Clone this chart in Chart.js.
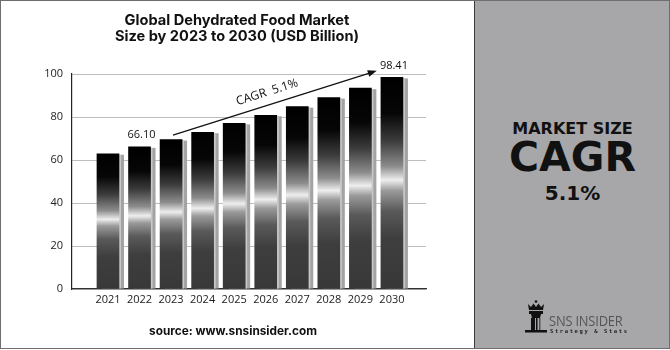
<!DOCTYPE html>
<html>
<head>
<meta charset="utf-8">
<script src="https://cdn.jsdelivr.net/npm/chart.js@4"></script>
<style>
  html, body { margin: 0; padding: 0; background: #fff; }
  #frame { position: relative; width: 670px; height: 350px; overflow: hidden; }
  #border { position: absolute; left: 0; top: 0; width: 668px; height: 347px; border: 1px solid #6e6e6e; }
  #chartCanvas { position: absolute; left: 0; top: 0; }
  .title { position: absolute; left: 0; width: 474px; text-align: center; font-family: Inter, sans-serif; font-weight: 700; font-size: 14.6px; color: #111; }
  #source { position: absolute; left: 0; width: 466px; top: 324px; text-align: center; font-family: Inter, sans-serif; font-weight: 700; font-size: 11.8px; color: #111; }
  #side { position: absolute; left: 474px; top: 1px; width: 195px; height: 347px; background: #a7a7aa; border-left: 1px solid #3a3a3a; }
  .side-txt { position: absolute; left: 0; width: 195px; text-align: center; font-family: "DejaVu Sans", sans-serif; font-weight: 700; color: #111; }
  #logo { position: absolute; left: 50px; top: 299px; }
  #logoName { position: absolute; left: 74px; top: 310px; font-family: "Open Sans", sans-serif; font-size: 14px; color: #555; letter-spacing: -0.2px; transform: scaleX(0.92); transform-origin: left; }
  #logoTag { position: absolute; left: 75px; top: 327px; font-family: "DejaVu Sans Mono", monospace; font-weight: 700; font-size: 5.5px; color: #222; letter-spacing: 1.6px; }
</style>
</head>
<body>
<div id="frame">
  <canvas id="chartCanvas" width="474" height="350"></canvas>
  <div class="title" style="top: 11px;">Global Dehydrated Food Market</div>
  <div class="title" style="top: 27px;">Size by 2023 to 2030 (USD Billion)</div>
  <div id="source">source: www.snsinsider.com</div>
  <div id="side">
    <div class="side-txt" style="top: 118px; font-size: 16px;">MARKET SIZE</div>
    <div class="side-txt" style="top: 132px; font-size: 41px;">CAGR</div>
    <div class="side-txt" style="top: 180px; font-size: 20px;">5.1%</div>
    <svg id="logo" width="22" height="34" viewBox="0 0 22 34">
      <circle cx="11" cy="1.5" r="1.3" fill="#111"/>
      <path d="M3 4 L6 7 L8.5 3.5 L11 7 L13.5 3.5 L16 7 L19 4 L18 10 L4 10 Z" fill="#111"/>
      <rect x="4" y="11" width="14" height="3" fill="#111"/>
      <path d="M6 14 L16 14 L15 18 L7 18 Z" fill="#111"/>
      <rect x="6" y="18" width="4" height="12" fill="#111"/>
      <rect x="11" y="18" width="1.5" height="12" fill="#111"/>
      <rect x="14" y="18" width="1.5" height="12" fill="#555"/>
      <rect x="0" y="30" width="22" height="2.5" fill="#111"/>
    </svg>
    <div id="logoName">SNS INSIDER</div>
    <div id="logoTag">Strategy &amp; Stats</div>
  </div>
  <div id="border"></div>
</div>
<script>
// data
const years = [2021, 2022, 2023, 2024, 2025, 2026, 2027, 2028, 2029, 2030];
const marketSize = [62.9, 66.10, 69.5, 72.9, 77.0, 80.8, 84.8, 89.0, 93.4, 98.41];
const valueLabels = ['', '66.10', '', '', '', '', '', '', '', '98.41'];
const yTicks = [0, 20, 40, 60, 80, 100];

// CAGR arrow, in data space
const cagrText = 'CAGR  5.1%';
const cagrFrom = { x: 2023.06, y: 71.6 };
const cagrTo = { x: 2029.52, y: 101.5 };

const FONT = '"Open Sans", sans-serif';

function barGradient(c) {
  const chart = c.chart;
  const { ctx, chartArea, scales } = chart;
  if (!chartArea || c.type !== 'data') return '#000';
  const top = scales.y.getPixelForValue(c.parsed.y);
  const bottom = scales.y.getPixelForValue(0);
  const g = ctx.createLinearGradient(0, top, 0, bottom);
  g.addColorStop(0, '#000');
  g.addColorStop(0.17, '#060606');
  g.addColorStop(0.3, '#3c3c3c');
  g.addColorStop(0.42, '#8c8c8c');
  g.addColorStop(0.485, '#eeeeee');
  g.addColorStop(0.535, '#9a9a9a');
  g.addColorStop(0.63, '#5a5a5a');
  g.addColorStop(0.76, '#3e3e3e');
  g.addColorStop(1, '#383838');
  return g;
}

// gray offset block behind each bar
const barShadow = {
  id: 'barShadow',
  beforeDatasetsDraw(chart) {
    const ctx = chart.ctx;
    ctx.save();
    chart.getDatasetMeta(0).data.forEach(bar => {
      const { x, y, base, width } = bar.getProps(['x', 'y', 'base', 'width'], true);
      ctx.fillStyle = '#a3a3a3';
      ctx.fillRect(x - width / 2 + 5, y + 1, width, base - y - 1);
      ctx.fillStyle = '#c9c9c9';
      ctx.fillRect(x + width / 2, y + 1, 2, base - y - 1);
    });
    ctx.restore();
  }
};

// value labels + CAGR arrow
const overlay = {
  id: 'overlay',
  afterDatasetsDraw(chart) {
    const { ctx, scales } = chart;
    ctx.save();
    ctx.font = '11px ' + FONT;
    ctx.fillStyle = '#111';
    ctx.textAlign = 'center';
    ctx.textBaseline = 'middle';
    chart.getDatasetMeta(0).data.forEach((bar, i) => {
      if (!valueLabels[i]) return;
      ctx.fillText(valueLabels[i], bar.x + 2, bar.y - 12);
    });

    const x1 = scales.x.getPixelForValue(cagrFrom.x), y1 = scales.y.getPixelForValue(cagrFrom.y);
    const x2 = scales.x.getPixelForValue(cagrTo.x), y2 = scales.y.getPixelForValue(cagrTo.y);
    const ang = Math.atan2(y2 - y1, x2 - x1);
    ctx.strokeStyle = '#111';
    ctx.lineWidth = 1.2;
    ctx.beginPath();
    ctx.moveTo(x1, y1);
    ctx.lineTo(x2 - 6 * Math.cos(ang), y2 - 6 * Math.sin(ang));
    ctx.stroke();
    ctx.translate(x2, y2);
    ctx.rotate(ang);
    ctx.beginPath();
    ctx.moveTo(0, 0);
    ctx.lineTo(-9, -3.5);
    ctx.lineTo(-9, 3.5);
    ctx.closePath();
    ctx.fillStyle = '#111';
    ctx.fill();
    ctx.setTransform(1, 0, 0, 1, 0, 0);

    const t = 0.48;
    ctx.translate(x1 + (x2 - x1) * t, y1 + (y2 - y1) * t);
    ctx.rotate(ang);
    ctx.font = '12px ' + FONT;
    ctx.textBaseline = 'alphabetic';
    ctx.fillText(cagrText, 0, -9);
    ctx.restore();
  }
};

new Chart(document.getElementById('chartCanvas'), {
  type: 'bar',
  data: {
    datasets: [{
      data: years.map((yr, i) => ({ x: yr, y: marketSize[i] })),
      backgroundColor: barGradient,
      borderWidth: 0,
      barThickness: 22,
    }],
  },
  options: {
    responsive: false,
    animation: false,
    events: [],
    layout: { padding: { left: 30, right: 48, top: 74, bottom: 36 } },
    plugins: {
      legend: { display: false },
      tooltip: { enabled: false },
    },
    scales: {
      x: {
        type: 'linear',
        offset: false,
        min: 2019.86,
        max: 2031.08,
        afterBuildTicks: (s) => { s.ticks = years.map(v => ({ value: v })); },
        afterFit: (s) => { s.height = 25; },
        ticks: {
          autoSkip: false,
          maxRotation: 0,
          padding: 4,
          color: '#222',
          font: { size: 11, family: FONT },
          callback: (v) => String(v),
        },
        grid: { display: false, drawTicks: false, offset: false },
        border: { display: true, color: '#333', width: 1.2 },
      },
      y: {
        min: 0,
        max: 100,
        afterBuildTicks: (s) => { s.ticks = yTicks.map(v => ({ value: v })); },
        afterFit: (s) => { s.width = 42; },
        ticks: {
          padding: 9,
          color: '#222',
          font: { size: 11, family: FONT },
        },
        grid: { color: '#bdbdbd', lineWidth: 1, drawTicks: false },
        border: { display: true, color: '#222', width: 1.2 },
      },
    },
  },
  plugins: [barShadow, overlay],
});
</script>
</body>
</html>
